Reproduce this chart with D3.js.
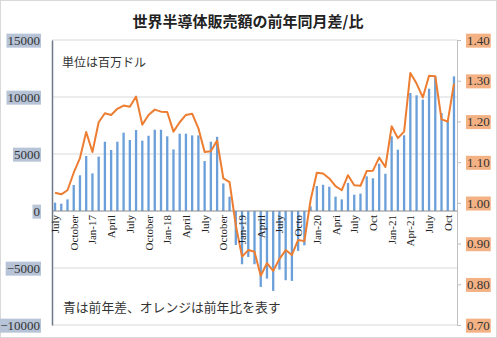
<!DOCTYPE html>
<html><head><meta charset="utf-8">
<script src="https://cdn.jsdelivr.net/npm/d3@7"></script>
<style>body{margin:0;background:#fff;}svg{display:block;}</style>
</head><body>
<svg id="c" width="497" height="338"></svg>
<script>
const months = d3.range(65).map(i => { const m = (6 + i) % 12, y = 2016 + Math.floor((6 + i) / 12); return y + "-" + String(m + 1).padStart(2, "0"); });
const xLabels = ["July","","","October","","","Jan-17","","","April","","","July","","","October","","","Jan-18","","","April","","","July","","","October","","","Jan-19","","","April","","","July","","","Octo","","","Jan-20","","","Apri","","","July","","","Oct","","","Jan-21","","","Apr-21","","","July","","","Oct",""];
const diffValues = [730,640,1020,2280,3130,4820,3300,4770,6080,5350,6080,6870,6230,7100,6170,6600,7130,7130,6550,5400,6780,6780,6630,6630,4380,6080,6510,2420,1260,-2980,-4670,-4030,-4670,-6660,-5930,-7010,-5140,-6070,-6130,-3500,-3010,410,2190,2300,2130,1260,1020,2460,1430,1520,3040,2870,4150,3270,6550,5380,6640,10350,10150,9770,10730,11810,8600,7920,11810];
const ratioValues = [1.025,1.021,1.031,1.074,1.110,1.174,1.125,1.198,1.220,1.216,1.231,1.239,1.236,1.261,1.192,1.216,1.229,1.224,1.223,1.175,1.198,1.216,1.219,1.183,1.125,1.127,1.153,1.060,1.051,0.945,0.868,0.884,0.880,0.821,0.852,0.833,0.862,0.884,0.872,0.909,0.906,1.007,1.074,1.072,1.060,1.041,1.031,1.068,1.043,1.042,1.078,1.079,1.111,1.088,1.188,1.159,1.175,1.319,1.293,1.259,1.312,1.311,1.205,1.200,1.293];
const leftTicks = [15000,10000,5000,0,-5000,-10000];
const rightTicks = [1.40,1.30,1.20,1.10,1.00,0.90,0.80,0.70];
const title = "世界半導体販売額の前年同月差/比";
const noteTop = "単位は百万ドル";
const noteBottom = "青は前年差、オレンジは前年比を表す";

const svg = d3.select("#c");
const L = 52, R = 457, T = 40, B = 325;
const x = d3.scaleBand().domain(months).range([L, R]).paddingInner(0.63).paddingOuter(0.3);
const yL = d3.scaleLinear().domain([-10000, 15000]).range([B, T]);
const yR = d3.scaleLinear().domain([0.7, 1.4]).range([B, T]);
const serif = "'Liberation Serif','DejaVu Serif',serif";
const cjk = "'Noto Sans CJK JP','Noto Sans CJK SC',sans-serif";

svg.append("rect").attr("x",0.5).attr("y",0.5).attr("width",496).attr("height",337).attr("fill","#fff").attr("stroke","#d9d9d9");

// gridlines
svg.append("g").selectAll("line").data(leftTicks.filter(d => d !== 0)).join("line")
  .attr("x1", L).attr("x2", R).attr("y1", d => yL(d)).attr("y2", d => yL(d))
  .attr("stroke", "#d9d9d9").attr("stroke-width", 1);

// bars
svg.append("g").selectAll("rect").data(diffValues).join("rect")
  .attr("x", (d, i) => x(months[i]))
  .attr("width", x.bandwidth())
  .attr("y", d => Math.min(yL(d), yL(0)))
  .attr("height", d => Math.abs(yL(d) - yL(0)))
  .attr("fill", "#6a9fd9");

// zero axis
svg.append("line").attr("x1", L).attr("x2", R).attr("y1", yL(0)).attr("y2", yL(0)).attr("stroke", "#8c8c8c").attr("stroke-width", 1);

// left axis
const gl = svg.append("g").attr("transform", `translate(${L},0)`).call(d3.axisLeft(yL).tickValues(leftTicks).tickSize(0).tickPadding(12).tickFormat(d3.format("d")));
gl.select(".domain").attr("stroke", "#6d7888").attr("stroke-width", 1.5);
gl.selectAll("text").attr("font-family", serif).attr("font-size", 13).attr("fill", "#333");
gl.selectAll(".tick").each(function() {
  const t = d3.select(this).select("text"); const bb = t.node().getBBox();
  d3.select(this).insert("rect", "text").attr("x", bb.x - 1).attr("y", bb.y + 1).attr("width", bb.width + 2).attr("height", bb.height - 1).attr("fill", "#b7c3d6");
});

// right axis
const gr = svg.append("g").attr("transform", `translate(${R},0)`).call(d3.axisRight(yR).tickValues(rightTicks).tickSize(4).tickPadding(6).tickFormat(d3.format(".2f")));
gr.select(".domain").attr("stroke", "#bfbfbf").attr("stroke-width", 1);
gr.selectAll(".tick line").attr("stroke", "#bfbfbf");
gr.selectAll("text").attr("font-family", serif).attr("font-size", 13).attr("fill", "#333");
gr.selectAll(".tick").each(function() {
  const t = d3.select(this).select("text"); const bb = t.node().getBBox();
  d3.select(this).insert("rect", "text").attr("x", bb.x - 1).attr("y", bb.y + 1).attr("width", bb.width + 2).attr("height", bb.height - 1).attr("fill", "#f4b183");
});

// line
const line = d3.line().x((d, i) => x(months[i]) + x.bandwidth() / 2).y(d => yR(d));
svg.append("path").datum(ratioValues).attr("d", line).attr("fill", "none").attr("stroke", "#ed7d31").attr("stroke-width", 2).attr("stroke-linejoin", "round");

// x labels
svg.append("g").selectAll("text").data(xLabels).join("text")
  .attr("transform", (d, i) => `translate(${x(months[i]) + x.bandwidth() / 2 + 4},${yL(0) + 4}) rotate(-90)`)
  .attr("text-anchor", "end").attr("font-family", serif).attr("font-size", 11).attr("fill", "#222")
  .text(d => d);

// texts
svg.append("text").attr("x", 248).attr("y", 27).attr("text-anchor", "middle").attr("font-family", cjk).attr("font-weight", "bold").attr("font-size", 15).attr("fill", "#222").text(title);
svg.append("text").attr("x", 62).attr("y", 67).attr("font-family", cjk).attr("font-size", 12).attr("fill", "#333").text(noteTop);
svg.append("text").attr("x", 63).attr("y", 312).attr("font-family", cjk).attr("font-size", 12.8).attr("fill", "#333").text(noteBottom);
</script>
</body></html>
